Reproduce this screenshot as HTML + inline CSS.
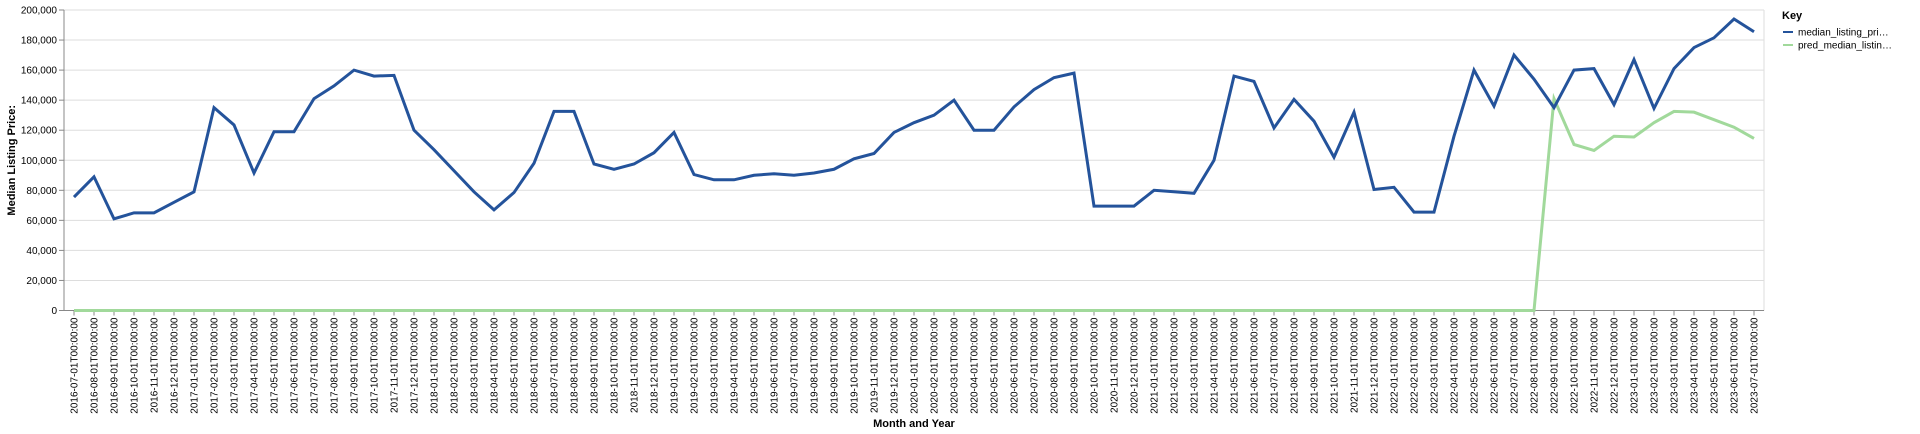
<!DOCTYPE html>
<html><head><meta charset="utf-8"><style>
html,body{margin:0;padding:0;background:#fff;width:1920px;height:434px;overflow:hidden}
svg text{font-family:"Liberation Sans",sans-serif}
</style></head><body>
<svg id="chart" width="1920" height="434" xmlns="http://www.w3.org/2000/svg"></svg>
<script>
const months = [];
for (let y = 2016, m = 7; !(y === 2023 && m === 8); ) { months.push(y + '-' + String(m).padStart(2,'0') + '-01T00:00:00'); m++; if (m > 12) { m = 1; y++; } }
const actualValues = [75500,89000,61000,65000,65000,72000,79000,135000,123500,91500,119000,119000,141000,149500,160000,156000,156500,
120000,107000,93000,79000,67000,78500,98000,132500,132500,97500,94000,97500,105000,118500,90500,87000,87000,90000,91000,
90000,91500,94000,101000,104500,118500,125000,130000,140000,120000,120000,135500,147000,155000,158000,69500,69500,69500,80000,
79000,78000,100000,156000,152500,121500,140500,126000,102000,132000,80500,82000,65500,65500,116000,160000,136000,170000,154000,
135000,160000,161000,137000,167000,134500,161000,175000,181500,194000,185500];
const predValues = new Array(74).fill(0).concat([141000,110500,106500,116000,115500,125000,132500,132000,127000,122000,114500]);
const yTicks = [0,20000,40000,60000,80000,100000,120000,140000,160000,180000,200000];
const seriesNames = ['median_listing_pri…','pred_median_listin…'];

const svg = document.getElementById('chart');
const NS = 'http://www.w3.org/2000/svg';
const X0 = 74, STEP = 20, Y0 = 310.5, YTOP = 10, PL = 64, PR = 1764;
const xs = i => X0 + i * STEP;
const ys = v => Y0 - (v / 200000) * (Y0 - YTOP);
function mk(tag, attrs, parent) { const e = document.createElementNS(NS, tag); for (const k in attrs) e.setAttribute(k, attrs[k]); (parent || svg).appendChild(e); return e; }

const grid = mk('g', {});


yTicks.forEach(t => {
  const l = mk('line', {x1: PL, x2: PR, y1: ys(t), y2: ys(t), stroke: '#ddd', 'stroke-width': 1}, grid);
  
  
  const tk = mk('line', {x1: PL - 5, x2: PL, y1: ys(t), y2: ys(t), stroke: '#888'});
  
  
  const tx = mk('text', {x: PL - 7, y: ys(t) + 3.5, 'text-anchor': 'end', 'font-size': 10, fill: '#000'});
  tx.textContent = t.toLocaleString('en-US');
  
  
});
const rb = mk('line', {x1: PR, x2: PR, y1: YTOP, y2: Y0, stroke: '#ddd'});


const ya = mk('line', {x1: PL, x2: PL, y1: YTOP, y2: Y0, stroke: '#888'});


const xa = mk('line', {x1: PL, x2: PR, y1: Y0, y2: Y0, stroke: '#888'});



months.forEach((m, i) => {
  const tk = mk('line', {x1: xs(i), x2: xs(i), y1: Y0, y2: Y0 + 5, stroke: '#888'});
  
  
  const tx = mk('text', {x: 0, y: 0, 'text-anchor': 'end', 'font-size': 10, fill: '#000', transform: `translate(${xs(i)+3.5},${Y0+7}) rotate(-90)`});
  tx.textContent = m;
  
  
});

function line(vals, color, name) {
  const p = mk('path', {d: vals.map((v, i) => (i ? 'L' : 'M') + xs(i) + ',' + ys(v)).join(''), fill: 'none', stroke: color, 'stroke-width': 3, 'stroke-linejoin': 'miter'});
  
  
}
line(predValues, '#a1d99b', 'pred-median-listing-price-line');
line(actualValues, '#24539b', 'median-listing-price-line');

const yt = mk('text', {x: 0, y: 0, 'text-anchor': 'middle', 'font-size': 11, 'font-weight': 'bold', transform: `translate(15,${(Y0+YTOP)/2}) rotate(-90)`});
yt.textContent = 'Median Listing Price:';


const xt = mk('text', {x: (PL+PR)/2, y: 427, 'text-anchor': 'middle', 'font-size': 11, 'font-weight': 'bold'});
xt.textContent = 'Month and Year';



const lg = mk('g', {});


const kt = mk('text', {x: 1782, y: 19, 'font-size': 11, 'font-weight': 'bold'}, lg);
kt.textContent = 'Key';


['#24539b', '#a1d99b'].forEach((c, i) => {
  const ey = 32 + i * 13;
  const sw = mk('line', {x1: 1783, x2: 1793, y1: ey, y2: ey, stroke: c, 'stroke-width': 2}, lg);
  
  
  const t = mk('text', {x: 1798, y: ey + 3.5, 'font-size': 10, fill: '#000'}, lg);
  t.textContent = seriesNames[i];
  
  
});
</script>
</body></html>
